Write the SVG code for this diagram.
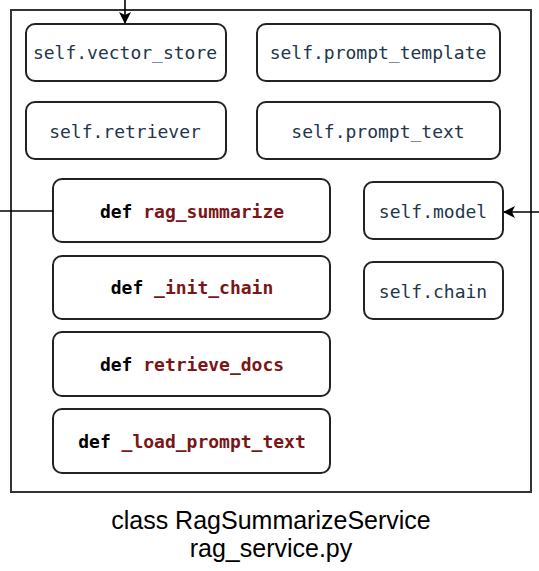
<svg xmlns="http://www.w3.org/2000/svg" width="539" height="571" viewBox="0 0 539 571">
<style>
.box{fill:#fff;stroke:#222;stroke-width:2}
.attr{font-family:"DejaVu Sans Mono","Liberation Mono",monospace;font-size:18px;fill:#22354c;text-anchor:middle}
.fn{font-family:"DejaVu Sans Mono","Liberation Mono",monospace;font-size:18px;font-weight:bold;fill:#000;text-anchor:middle}
.nm{fill:#7a1518}
.cap{font-family:"Liberation Sans",Arial,sans-serif;font-size:25px;fill:#000;text-anchor:middle}
.ln{stroke:#000;stroke-width:1.6;fill:none}
</style>
<defs>
<marker id="ah" markerWidth="12" markerHeight="12" refX="11" refY="6" orient="auto" markerUnits="userSpaceOnUse">
<path d="M0,0 L12,6 L0,12 L3,6 Z" fill="#000"/>
</marker>
</defs>
<g id="class-box">
<rect x="11" y="10" width="520" height="482" fill="#fff" stroke="#333" stroke-width="2"/>
<text class="cap" x="271" y="529">class RagSummarizeService</text>
<text class="cap" x="271" y="557">rag_service.py</text>
</g>
<g id="vector_store"><rect class="box" x="26" y="24" width="200" height="57" rx="9"/><text class="attr" x="125" y="59">self.vector_store</text></g>
<g id="retriever"><rect class="box" x="26" y="102" width="200" height="57" rx="9"/><text class="attr" x="125" y="138">self.retriever</text></g>
<g id="prompt_template"><rect class="box" x="257" y="24" width="243" height="57" rx="9"/><text class="attr" x="378" y="59">self.prompt_template</text></g>
<g id="prompt_text"><rect class="box" x="257" y="102" width="243" height="57" rx="9"/><text class="attr" x="378" y="138">self.prompt_text</text></g>
<g id="rag_summarize"><rect class="box" x="53" y="179" width="277" height="63" rx="9"/><text class="fn" x="192" y="218">def <tspan class="nm">rag_summarize</tspan></text></g>
<g id="init_chain"><rect class="box" x="53" y="256" width="277" height="63" rx="9"/><text class="fn" x="192" y="294">def <tspan class="nm">_init_chain</tspan></text></g>
<g id="retrieve_docs"><rect class="box" x="53" y="332" width="277" height="64" rx="9"/><text class="fn" x="192" y="371">def <tspan class="nm">retrieve_docs</tspan></text></g>
<g id="load_prompt_text"><rect class="box" x="53" y="409" width="277" height="64" rx="9"/><text class="fn" x="192" y="448">def <tspan class="nm">_load_prompt_text</tspan></text></g>
<g id="model"><rect class="box" x="364" y="182" width="139" height="57" rx="9"/><text class="attr" x="433" y="218">self.model</text></g>
<g id="chain"><rect class="box" x="364" y="262" width="139" height="57" rx="9"/><text class="attr" x="433" y="298">self.chain</text></g>
<g id="connectors">
<line class="ln" x1="125" y1="0" x2="125" y2="23" marker-end="url(#ah)"/>
<line class="ln" x1="0" y1="211" x2="53" y2="211"/>
<line class="ln" x1="539" y1="212" x2="504" y2="212" marker-end="url(#ah)"/>
</g>
</svg>
